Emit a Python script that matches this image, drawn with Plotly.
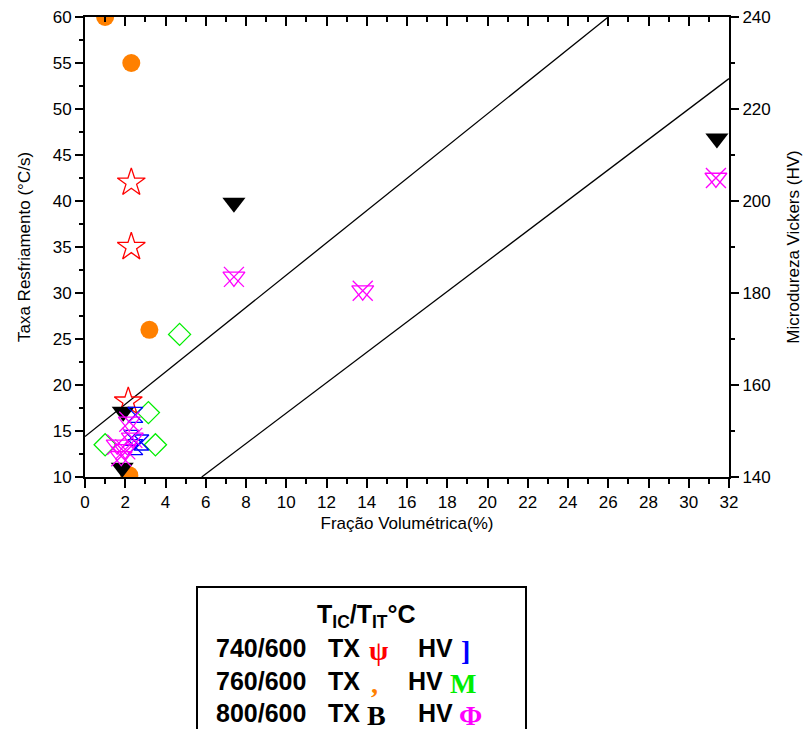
import plotly.graph_objects as go

# ---- data ----
tx740_x = [2.3, 2.3, 2.15]
tx740_y = [42, 35, 18.2]

tx760_x = [1.0, 2.3, 3.2, 2.2]
tx760_y = [60, 55, 26, 10.2]

tx800_x = [7.4, 31.4, 1.9, 1.85]
tx800_y = [39.8, 46.8, 17.1, 11.0]

hv740_x = [2.5, 2.8, 2.5, 2.3]
hv740_y = [153.5, 147.5, 146.5, 148.5]

hv760_x = [4.7, 3.15, 1.0, 3.5]
hv760_y = [171, 154, 147, 147]

hv800_x = [7.4, 13.8, 31.35, 2.2, 1.6, 2.0, 2.35, 1.8]
hv800_y = [183.5, 180.5, 205, 152, 147, 146, 148.5, 144.5]

line1_x = [0, 26]
line1_y = [14.4, 60]
line2_x = [5.8, 32]
line2_y = [10, 53.3]

x_ticks = list(range(0, 33, 2))
y_ticks = list(range(10, 61, 5))
y2_ticks = list(range(140, 241, 20))

FONT = "Liberation Sans, Arial, sans-serif"
SERIF = "Liberation Serif, DejaVu Serif, serif"

fig = go.Figure()

fig.add_trace(go.Scatter(x=line1_x, y=line1_y, mode="lines",
                         line=dict(color="black", width=1.3), showlegend=False))
fig.add_trace(go.Scatter(x=line2_x, y=line2_y, mode="lines",
                         line=dict(color="black", width=1.3), showlegend=False))

fig.add_trace(go.Scatter(x=tx760_x, y=tx760_y, mode="markers",
                         marker=dict(symbol="circle", size=18, color="#ff8000"),
                         showlegend=False))
fig.add_trace(go.Scatter(x=tx740_x, y=tx740_y, mode="markers",
                         marker=dict(symbol="star-open", size=21, color="red",
                                     line=dict(width=1.3, color="red")),
                         showlegend=False))
fig.add_trace(go.Scatter(x=hv760_x, y=hv760_y, mode="markers", yaxis="y2",
                         marker=dict(symbol="diamond-open", size=17, color="#00ee00",
                                     line=dict(width=1.3, color="#00ee00")),
                         showlegend=False))
fig.add_trace(go.Scatter(x=hv740_x, y=hv740_y, mode="markers", yaxis="y2",
                         marker=dict(symbol="hourglass-open", size=15, color="blue",
                                     line=dict(width=1.3, color="blue")),
                         showlegend=False))
fig.add_trace(go.Scatter(x=hv800_x, y=hv800_y, mode="markers", yaxis="y2",
                         marker=dict(symbol="triangle-down-open", size=19, color="magenta",
                                     line=dict(width=1.3, color="magenta")),
                         showlegend=False))
fig.add_trace(go.Scatter(x=hv800_x, y=hv800_y, mode="markers", yaxis="y2",
                         marker=dict(symbol="x-thin-open", size=20, color="magenta",
                                     line=dict(width=1.3, color="magenta")),
                         showlegend=False))
fig.add_trace(go.Scatter(x=tx800_x, y=tx800_y, mode="markers",
                         marker=dict(symbol="triangle-down", size=20, color="black"),
                         showlegend=False))

axis_common = dict(showgrid=False, zeroline=False, showline=True, linecolor="black",
                   linewidth=2, tickcolor="black", tickwidth=2, automargin=False,
                   ticklabeloverflow="allow",
                   tickfont=dict(family=FONT, size=17, color="black"))

fig.update_layout(
    width=807, height=729,
    margin=dict(l=85, r=78, t=17, b=252),
    paper_bgcolor="white", plot_bgcolor="white",
    font=dict(family=FONT, color="black"),
    xaxis=dict(range=[0, 32], tickvals=x_ticks, ticks="outside", ticklen=9,
               minor=dict(dtick=1, ticks="outside", ticklen=5, tickwidth=2, tickcolor="black"),
               title=dict(text="Fração Volumétrica(%)", font=dict(family=FONT, size=17), standoff=6),
               **axis_common),
    xaxis2=dict(range=[0, 32], overlaying="x", side="top", tickvals=x_ticks, ticks="inside",
                ticklen=9, showticklabels=False,
                minor=dict(dtick=1, ticks="inside", ticklen=5, tickwidth=2, tickcolor="black"),
                **axis_common),
    yaxis=dict(range=[10, 60], tickvals=y_ticks, ticks="outside", ticklen=8,
               minor=dict(dtick=2.5, ticks="outside", ticklen=4, tickwidth=2, tickcolor="black"),
               title=dict(text="Taxa Resfriamento (°C/s)", font=dict(family=FONT, size=17), standoff=18),
               **axis_common),
    yaxis2=dict(range=[140, 240], overlaying="y", side="right", tickvals=y2_ticks,
                ticks="outside", ticklen=8,
                minor=dict(dtick=10, ticks="outside", ticklen=4, tickwidth=2, tickcolor="black"),
                title=dict(text="Microdureza Vickers (HV)", font=dict(family=FONT, size=17), standoff=17),
                **axis_common),
)

# dummy trace to activate xaxis2
fig.add_trace(go.Scatter(x=[0], y=[10], xaxis="x2", mode="markers",
                         marker=dict(opacity=0), showlegend=False, hoverinfo="skip"))

def px(x):
    return (x - 85) / 644.0

def py(y):
    return (477 - y) / 460.0

# legend box
fig.add_shape(type="rect", xref="paper", yref="paper",
              x0=px(197), x1=px(526), y0=py(760), y1=py(587),
              line=dict(color="black", width=2), fillcolor="white")

B = dict(family=FONT, size=25, color="black")

def ann(text, x, y, font, xanchor="left"):
    fig.add_annotation(text=text, xref="paper", yref="paper", x=px(x), y=py(y),
                       xanchor=xanchor, yanchor="middle", showarrow=False, font=font)

ann("<b>T<sub>IC</sub>/T<sub>IT</sub>°C</b>", 366, 616, B, xanchor="center")
rows = [("740/600", 648, ("ψ", "red", 367), 416, ("]", "blue", 459)),
        ("760/600", 681, (",", "#ff8000", 369), 406, ("M", "#00ee00", 448)),
        ("800/600", 713, ("B", "black", 365), 416, ("Φ", "magenta", 457))]
for lab, yy, (s1, c1, x1), hvx, (s2, c2, x2) in rows:
    ann("<b>" + lab + "</b>", 214, yy, B)
    ann("<b>TX</b>", 326, yy, B)
    ann("<b>" + s1 + "</b>", x1, yy + 2, dict(family=SERIF, size=28, color=c1))
    ann("<b>HV</b>", hvx, yy, B)
    ann("<b>" + s2 + "</b>", x2, yy + 2, dict(family=SERIF, size=28, color=c2))

fig.write_html("out.html", config={"displayModeBar": False},
               post_script="document.body.style.margin='0';document.body.style.overflow='hidden';")
